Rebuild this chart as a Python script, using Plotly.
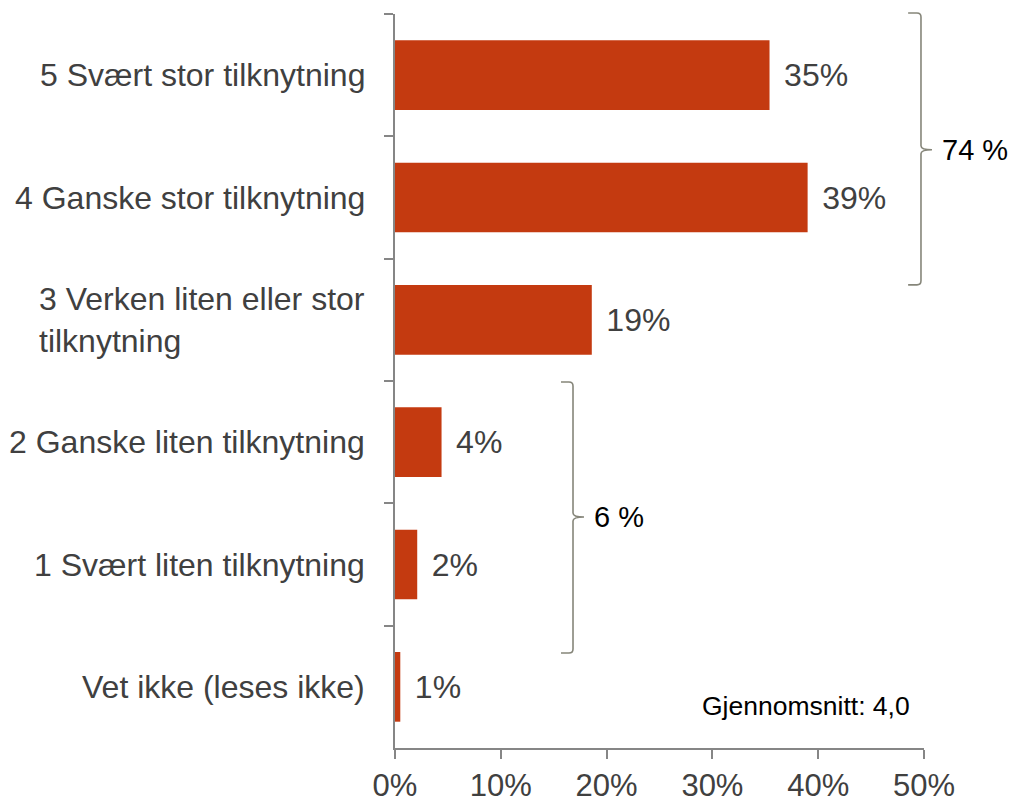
import plotly.graph_objects as go

categories = [
    "5 Svært stor tilknytning",
    "4 Ganske stor tilknytning",
    "3 Verken liten eller stor<br>tilknytning",
    "2 Ganske liten tilknytning",
    "1 Svært liten tilknytning",
    "Vet ikke (leses ikke)",
]
values = [0.354, 0.390, 0.186, 0.044, 0.021, 0.005]
value_labels = ["35%", "39%", "19%", "4%", "2%", "1%"]
x_ticks = [0, 0.1, 0.2, 0.3, 0.4, 0.5]
x_tick_labels = ["0%", "10%", "20%", "30%", "40%", "50%"]
group_labels = ["74 %", "6 %"]
mean_label = "Gjennomsnitt: 4,0"

FONT = "Liberation Sans, Arial, sans-serif"
BAR = "#C43A10"
GREY_TEXT = "#404040"
AXIS = "#868686"
BRACKET = "#86867A"

fig = go.Figure()
fig.add_trace(go.Bar(
    x=values,
    y=categories,
    orientation="h",
    marker=dict(color=BAR, line=dict(width=0)),
    text=["\u00a0\u200a" + t for t in value_labels],
    textposition="outside",
    textfont=dict(family=FONT, size=32, color=GREY_TEXT),
    cliponaxis=False,
    hoverinfo="skip",
))

annotations = []
for c in categories:
    annotations.append(dict(
        x=0, xref="paper", y=c, yref="y",
        text=c, showarrow=False, xanchor="right", yanchor="middle",
        align="left", xshift=-28,
        font=dict(family=FONT, size=32, color=GREY_TEXT),
    ))


def bracket(x_end, x_v, x_tip, top, bot, mid):
    rx, ry = 0.0076, 0.0055
    return (f"M {x_end},{top} L {x_v - rx},{top} Q {x_v},{top} {x_v},{top - ry} "
            f"L {x_v},{mid + ry} Q {x_v},{mid} {x_tip},{mid} "
            f"Q {x_v},{mid} {x_v},{mid - ry} "
            f"L {x_v},{bot + ry} Q {x_v},{bot} {x_v - rx},{bot} L {x_end},{bot}")


shapes = [
    dict(type="path", xref="paper", yref="paper",
         path=bracket(0.970, 0.9943, 1.0151, 1.0014, 0.631, 0.815),
         line=dict(color=BRACKET, width=1.6)),
    dict(type="path", xref="paper", yref="paper",
         path=bracket(0.3138, 0.3365, 0.3573, 0.4986, 0.1294, 0.3147),
         line=dict(color=BRACKET, width=1.6)),
]

annotations.append(dict(x=1.030, xref="paper", y=0.815, yref="paper", text=group_labels[0],
                        showarrow=False, xanchor="left", yanchor="middle",
                        font=dict(family=FONT, size=29, color="black")))
annotations.append(dict(x=0.372, xref="paper", y=0.3147, yref="paper", text=group_labels[1],
                        showarrow=False, xanchor="left", yanchor="middle",
                        font=dict(family=FONT, size=29, color="black")))
annotations.append(dict(x=0.576, xref="paper", y=0.0572, yref="paper", text=mean_label,
                        showarrow=False, xanchor="left", yanchor="middle",
                        font=dict(family=FONT, size=26.5, color="black")))

fig.update_layout(
    width=1014, height=800,
    margin=dict(l=395, r=90, t=14, b=52, autoexpand=False),
    paper_bgcolor="white", plot_bgcolor="white",
    showlegend=False,
    bargap=0.43,
    shapes=shapes,
    annotations=annotations,
    xaxis=dict(
        range=[0, 0.5], tickvals=x_ticks, ticktext=x_tick_labels,
        showgrid=False, zeroline=False, automargin=False,
        showline=True, linecolor=AXIS, linewidth=1.5,
        ticks="outside", ticklen=9, tickwidth=1.5, tickcolor=AXIS,
        tickfont=dict(family=FONT, size=31, color=GREY_TEXT),
        fixedrange=True,
    ),
    yaxis=dict(
        categoryorder="array", categoryarray=categories,
        autorange="reversed", automargin=False,
        showgrid=False, zeroline=False,
        showline=True, linecolor=AXIS, linewidth=1.5,
        ticks="outside", ticklen=9, tickwidth=1.5, tickcolor=AXIS,
        tickson="boundaries",
        showticklabels=False,
        fixedrange=True,
    ),
)

fig.write_html(
    "out.html",
    config={"displayModeBar": False},
    post_script="document.body.style.margin='0px';document.body.style.overflow='hidden';",
)
